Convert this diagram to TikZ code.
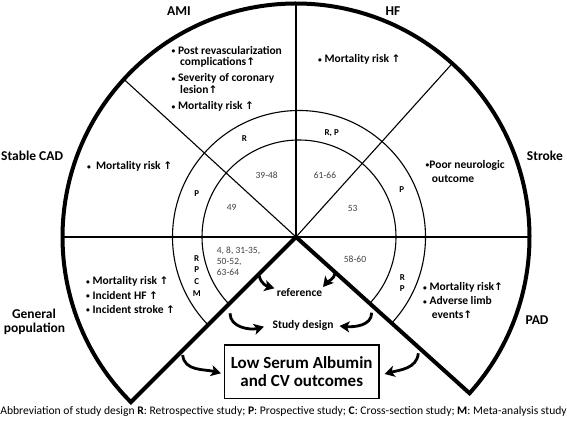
\documentclass[tikz,border=0pt]{standalone}
\usepackage{fontspec}
\setmainfont{Carlito}
\newfontfamily\symf{DejaVu Sans}
\usetikzlibrary{arrows.meta,calc}
\newcommand\upa{{\symf\fontsize{10.5}{11}\selectfont ↑}}
\newcommand\bu{\raisebox{0.6pt}{\fontsize{7.5}{8}\selectfont •}}
\tikzset{
  lab/.style={font=\bfseries\fontsize{13.5}{15}\selectfont, inner sep=0},
  bul/.style={font=\bfseries\fontsize{11.5}{12}\selectfont, inner sep=0, anchor=base west},
  sdl/.style={font=\bfseries\fontsize{9}{10}\selectfont, inner sep=0},
  refn/.style={font=\fontsize{9.5}{11}\selectfont, text=black!75, inner sep=0},
  thinline/.style={line width=1.1pt},
  thickline/.style={line width=4pt, line join=miter},
  bigarrow/.style={line width=2.8pt, -{Stealth[length=10pt,width=11pt,inset=2.5pt]}},
  mid/.style={font=\bfseries\fontsize{11.5}{13}\selectfont, inner sep=0},
}
\begin{document}
\begin{tikzpicture}[x=1pt,y=1pt]
\useasboundingbox (0,0) rectangle (567,422);
\coordinate (C) at (296,185);
\coordinate (Ci) at (299,185);
% thin dividing lines
\draw[thinline] ($(C)+(180:233.5)$) -- ($(C)+(0:233.5)$);
\draw[thinline] (C) -- ($(C)+(90:233.5)$);
\draw[thinline] (C) -- ($(C)+(137.5:233.5)$);
\draw[thinline] (C) -- ($(C)+(48:233.5)$);
% inner circles
\begin{scope}
\clip (C) -- ($(C)+(-42:240)$) arc[start angle=-42, end angle=225, radius=240] -- cycle;
\draw[thinline] (Ci) circle[radius=97];
\draw[thinline] (Ci) circle[radius=126.5];
\end{scope}
% outer thick shape
\draw[thickline] (C) -- ($(C)+(-42:233.5)$) arc[start angle=-42, end angle=225, radius=233.5] -- cycle;

% sector labels
\node[lab] (ami) at (179,411) {AMI};
\node[lab] (hf) at (393,411) {HF};
\node[lab, anchor=west] (scad) at (1,266) {Stable CAD};
\node[lab, anchor=east] (stroke) at (563,266) {Stroke};
\node[lab, anchor=base] (gen1) at (34,103) {General};
\node[lab, anchor=base] (gen2) at (34.5,89.5) {population};
\node[lab] (pad) at (537,102) {PAD};

% bullets
\node[bul] (a1) at (171.5,367.7) {\bu\ Post revascularization};
\node[bul] (a2) at (180,356) {complications\upa};
\node[bul] (a3) at (171.5,340) {\bu\ Severity of coronary};
\node[bul] (a4) at (180,328) {lesion\upa};
\node[bul] (a5) at (171.5,312) {\bu\ Mortality risk \upa};
\node[bul] (s1) at (87,252) {\bu\ \ Mortality risk \upa};
\node[bul] (h1) at (318,359.3) {\bu\ Mortality risk \upa};
\node[bul] (k1) at (425.5,253.7) {\bu Poor neurologic};
\node[bul] (k2) at (431.7,239.3) {outcome};
\node[bul] (g1) at (86,137) {\bu\ Mortality risk \upa};
\node[bul] (g2) at (86,122.7) {\bu\ Incident HF \upa};
\node[bul] (g3) at (86,108.7) {\bu\ Incident stroke \upa};
\node[bul] (p1) at (423,131) {\bu\ Mortality risk\upa};
\node[bul] (p2) at (423,117) {\bu\ Adverse limb};
\node[bul] (p3) at (431.7,103) {events\upa};

% study design letters
\node[sdl] (dR) at (244.3,283.7) {R};
\node[sdl] (dP) at (196.7,228.7) {P};
\node[sdl] (dRP) at (331.7,288.7) {R, P};
\node[sdl] (dP2) at (401.7,232) {P};
\node[sdl] (g4R) at (196.7,163.7) {R};
\node[sdl] (g4P) at (196.7,152) {P};
\node[sdl] (g4C) at (196.7,140.3) {C};
\node[sdl] (g4M) at (196.7,128) {M};
\node[sdl] (pR) at (402.3,144.7) {R};
\node[sdl] (pP) at (402.3,133.7) {P};

% references
\node[refn] (r1) at (266.7,247) {39-48};
\node[refn] (r2) at (231.7,214.7) {49};
\node[refn] (r3) at (325,247) {61-66};
\node[refn] (r4) at (352.7,213.7) {53};
\node[refn] (r5) at (355,162.7) {58-60};
\node[refn, anchor=base west] (r6a) at (216.7,168.8) {4, 8, 31-35,};
\node[refn, anchor=base west] (r6b) at (216.7,157.8) {50-52,};
\node[refn, anchor=base west] (r6c) at (216.7,146.8) {63-64};

% middle labels
\node[mid] (refl) at (299.5,129.3) {reference};
\node[mid, anchor=base] (sdes) at (303,93) {Study design};
\node[draw, line width=1.4pt, minimum width=154.7pt, minimum height=53.3pt, inner sep=0,
      align=center, font=\bfseries\fontsize{17}{18.4}\selectfont] (box) at (301.7,50.3)
      {Low Serum Albumin\\and CV outcomes};

% arrows
\coordinate (A1s) at (259.3,146);   \coordinate (A1e) at (274.5,133.7);
\coordinate (A2s) at (335,149);     \coordinate (A2e) at (323,135);
\coordinate (A3s) at (230,108.7);   \coordinate (A3e) at (264,95.3);
\coordinate (A4s) at (371.7,109.3); \coordinate (A4e) at (339.5,96);
\coordinate (A5s) at (182.7,67);    \coordinate (A5e) at (221,48.7);
\coordinate (A6s) at (418.3,68.7);  \coordinate (A6e) at (384.5,48);
\draw[bigarrow] (A1s) to[out=-80, in=165] (A1e);
\draw[bigarrow] (A2s) to[out=-100, in=50] (A2e);
\draw[bigarrow] (A3s) to[out=-90, in=195] (A3e);
\draw[bigarrow] (A4s) to[out=-90, in=-5] (A4e);
\draw[bigarrow] (A5s) to[out=-85, in=165] (A5e);
\draw[bigarrow] (A6s) to[out=-95, in=15] (A6e);

% caption
\node[inner sep=0, font=\fontsize{11.6}{13}\selectfont] (cap) at (283.5,11)
  {Abbreviation of study design \textbf{R}: Retrospective study; \textbf{P}: Prospective study; \textbf{C}: Cross-section study; \textbf{M}: Meta-analysis study};
\end{tikzpicture}
\end{document}
